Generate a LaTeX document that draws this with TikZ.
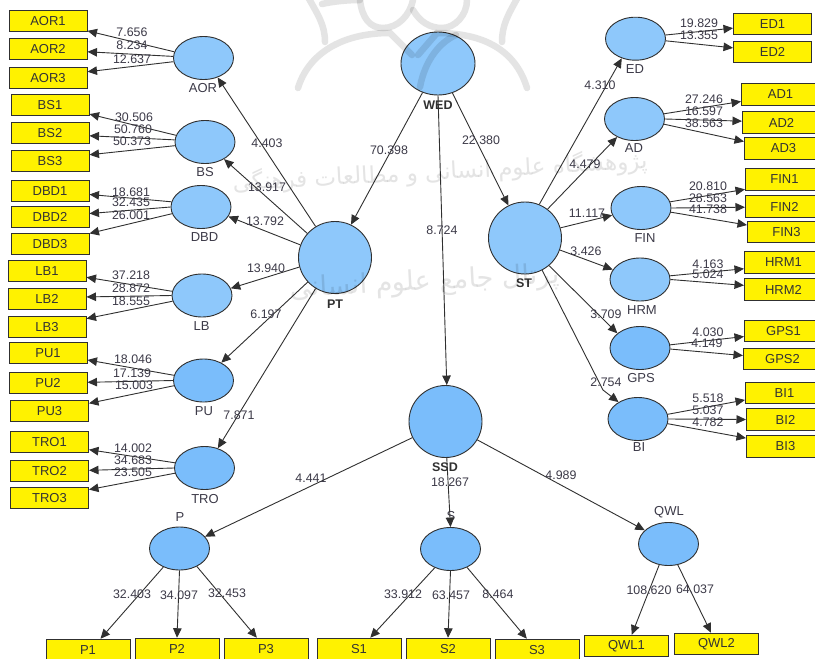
\documentclass[tikz,border=0pt]{standalone}
\usepackage{fontspec}
\setmainfont{Liberation Sans}
\newfontfamily\arabicfont[Script=Arabic]{DejaVu Sans}
\TeXXeTstate=1
\usetikzlibrary{shapes.geometric,arrows.meta}
\definecolor{inkc}{HTML}{303030}
\definecolor{textc}{HTML}{3C3A48}
\definecolor{bluelight}{HTML}{8EC8FB}
\definecolor{bluedeep}{HTML}{7ABDFB}
\definecolor{wmark}{HTML}{E4E4E4}
\tikzset{
  indbox/.style={draw=inkc,line width=1pt,fill=yellow,rectangle,minimum width=78pt,minimum height=21.5pt,inner sep=0pt,font=\fontsize{13}{13}\selectfont,text=black!80},
  wideindbox/.style={indbox,minimum width=84pt},
  latent/.style={draw=inkc,line width=0.9pt,ellipse,minimum width=60pt,minimum height=43pt,inner sep=0pt,fill=bluelight},
  latentdeep/.style={latent,fill=bluedeep},
  bigcircle/.style={latent,minimum width=73pt,minimum height=72pt},
  caplabel/.style={inner sep=0pt,font=\fontsize{13}{13}\selectfont,text=textc},
  boldlabel/.style={inner sep=0pt,font=\fontsize{12.5}{13}\selectfont\bfseries,text=inkc},
  vallabel/.style={inner sep=0pt,font=\fontsize{12.4}{13}\selectfont,text=textc},
  link/.style={draw=inkc,line width=0.9pt,-{Triangle[length=9.5pt,width=8.5pt]}},
  wmline/.style={draw=wmark,line width=6.5pt,line cap=round}
}
\begin{document}
\begin{tikzpicture}[x=1pt,y=-1pt]
\useasboundingbox (0,0) rectangle (815,659);
\fill[white] (0,0) rectangle (815,659);
\clip (0,0) rectangle (815,659);

% indicators
\foreach \n/\x/\y in {AOR1/48/21,AOR2/48/49,AOR3/48/78,BS1/50/105,BS2/50/133,BS3/50/161,DBD1/50/191,DBD2/50/217,DBD3/50/244,
  LB1/47/271,LB2/47/299,LB3/47/327,PU1/48/353,PU2/48/383,PU3/49.5/411,TRO1/49.5/442,TRO2/49.5/471,TRO3/49.5/498,
  ED1/772.5/24,ED2/772.5/52,AD1/780.5/94.5,AD2/781.5/122.5,AD3/783.5/148.5,FIN1/784.5/179.5,FIN2/784.5/206.5,FIN3/786.5/232,
  HRM1/783.5/262.5,HRM2/783.5/289.5,GPS1/783.5/331,GPS2/782.5/359,BI1/784.5/393,BI2/785.5/419.5,BI3/785.5/446.5}
  \node[indbox] (\n) at (\x,\y) {\n};
\foreach \n/\x/\y in {P1/88/650,P2/177/649,P3/266/649,S1/359/649,S2/448/649,S3/537/650,QWL1/626.5/646,QWL2/716.5/644}
  \node[wideindbox] (\n) at (\x,\y) {\n};

% latent variables
\foreach \n/\x/\y in {AOR/203.5/58,BS/205/142,DBD/201/207,LB/202/295.5,ED/635.5/38.7,AD/634.5/119,FIN/641/208,HRM/640/279.5}
  \node[latent] (\n) at (\x,\y) {};
\foreach \n/\x/\y in {PU/203.5/380.5,TRO/204.5/468,GPS/640/348,BI/638/419,P/179.5/548.5,S/450.5/549,QWL/668.5/544}
  \node[latentdeep] (\n) at (\x,\y) {};
\node[bigcircle,minimum width=74pt,minimum height=63pt] (WED) at (438,63.5) {};
\node[bigcircle] (PT) at (335,257.5) {};
\node[bigcircle] (ST) at (525,238) {};
\node[bigcircle,fill=bluedeep] (SSD) at (445.5,421.5) {};

% variable names
\foreach \x/\y/\t [count=\n] in {203/88/AOR,205/172/BS,204.5/237/DBD,201.5/326/LB,204/411/PU,205/499/TRO,
  635/69/ED,634/148/AD,645/238/FIN,642/310/HRM,641/378/GPS,639/447/BI,180/517/P,451/516/S,669/512/QWL}
  \node[caplabel] (cap\n) at (\x,\y) {\t};
\foreach \x/\y/\t [count=\n] in {438/105/WED,335/304/PT,524/283/ST,445/467/SSD}
  \node[boldlabel] (bold\n) at (\x,\y) {\t};

% connectors
\foreach \a/\aa/\b/\bb in {
  AOR/168/AOR1/-14,AOR/177/AOR2/-4,AOR/187/AOR3/9,
  BS/167/BS1/-13,BS/176/BS2/-4,BS/187/BS3/9,
  DBD/170/DBD1/-5,DBD/180/DBD2/5.5,DBD/193/DBD3/15,
  LB/172/LB1/-9,LB/180/LB2/3.5,LB/191/LB3/12.5,
  PU/170/PU1/-10,PU/180/PU2/1,PU/190/PU3/11,
  TRO/170/TRO1/-11.6,TRO/180/TRO2/1.5,TRO/190/TRO3/12.5,
  ED/7/ED1/186.5,ED/-4/ED2/174.5,
  AD/10/AD1/190,AD/0/AD2/178.5,AD/-10/AD3/170,
  FIN/12/FIN1/194,FIN/0/FIN2/181,FIN/-8/FIN3/170,
  HRM/7/HRM1/189.5,HRM/0/HRM2/174.5,
  GPS/6/GPS1/188,GPS/-2/GPS2/175.5,
  BI/9/BI1/190,BI/0/BI2/180,BI/-9/BI3/168,
  WED/242/PT/64,WED/-64/ST/117,WED/-90/SSD/88,
  PT/122/AOR/-54.6,PT/139/BS/-42,PT/160/DBD/-19,PT/195/LB/14.5,PT/222/PU/45,PT/238/TRO/56,
  ST/67/ED/235.7,ST/52.5/AD/226,ST/16/FIN/194,ST/-19/HRM/160.5,ST/-49/GPS/147,
  SSD/206.6/P/25,SSD/-88/S/90,SSD/-30/QWL/150,
  P/229.5/P1/42.5,P/-90/P2/90,P/-46.5/P3/129,
  S/230/S1/45,S/-90/S2/90,S/-48.5/S3/132,
  QWL/246.6/QWL1/65,QWL/-66.6/QWL2/116}
  \draw[link] (\a.\aa) -- (\b.\bb);
\coordinate (kink) at (603,390);
\draw[link] (ST.-62) -- (kink) -- (BI.139);

% values
\foreach \x/\y/\t [count=\n] in {
  132/32/7.656,132/45/8.234,132/59/12.637,134/117/30.506,133/129/50.760,132/141/50.373,
  131/192/18.681,131/202/32.435,131/215/26.001,267/143/4.403,267/187/13.917,265/221/13.792,
  131/275/37.218,131/288/28.872,131/301/18.555,133/359/18.046,132/373/17.139,134/385/15.003,
  133/448/14.002,133/460/34.683,133/472/23.505,266/268/13.940,266/314/6.197,239/415/7.871,
  389/150/70.398,481/140/22.380,442/230/8.724,
  699/23/19.829,699/35/13.355,704/99/27.246,704/111/16.597,704/123/38.563,
  708/186/20.810,708/198/28.563,708/209/41.738,600/85/4.310,585/164/4.479,587/213/11.117,
  586/251/3.426,606/314/3.709,606/382/2.754,708/264/4.163,708/274/5.024,708/332/4.030,707/343/4.149,
  708/398/5.518,708/410/5.037,708/422/4.782,
  311/478/4.441,450/482/18.267,561/475/4.989,
  132/594/32.403,179/595/34.097,227/593/32.453,403/594/33.912,451/595/63.457,498/594/8.464,649/590/108.620,695/589/64.037}
  \node[vallabel] (val\n) at (\x,\y) {\t};

% watermark, laid over the drawing
\begin{scope}[blend mode=multiply]
  \draw[wmline] (298,88) .. controls (308,55) and (340,33) .. (390,33) -- (412,55);
  \draw[wmline] (527,88) .. controls (517,55) and (490,33) .. (437,33) -- (418,55);
  \draw[wmline] (420,87) .. controls (425,60) and (440,42) .. (456,35);
  \draw[wmline] (308,-3) .. controls (318,15) and (325,25) .. (325,42);
  \draw[wmline] (518,-3) .. controls (508,15) and (502,25) .. (502,42);
  \draw[wmline] (322,4) .. controls (335,1) and (350,0) .. (360,0);
  \draw[wmline] (360,0) .. controls (362,18) and (370,28) .. (383,28) .. controls (398,28) and (410,15) .. (413,0);
  \draw[wmline] (413,10) .. controls (420,22) and (430,28) .. (442,28) .. controls (455,28) and (467,15) .. (467,0);
  \node[text=wmark,rotate=3,inner sep=0pt,font=\fontsize{23}{23}\selectfont] (wmone) at (440,172) {\arabicfont\beginR پژوهشگاه علوم انسانی و مطالعات فرهنگی\endR};
  \node[text=wmark,rotate=3,inner sep=0pt,font=\fontsize{27}{27}\selectfont] (wmtwo) at (425,283) {\arabicfont\beginR پرتال جامع علوم انسانی\endR};
\end{scope}
\end{tikzpicture}
\end{document}
